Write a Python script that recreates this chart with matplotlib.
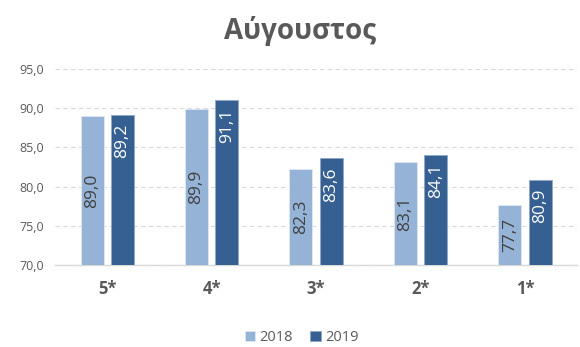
import matplotlib
matplotlib.use("Agg")
import matplotlib.pyplot as plt
import numpy as np

# hotel categories and occupancy values for August
categories = ["5*", "4*", "3*", "2*", "1*"]
values_2018 = [89.0, 89.9, 82.3, 83.1, 77.7]
values_2019 = [89.2, 91.1, 83.6, 84.1, 80.9]
years = ["2018", "2019"]
yticks = [70, 75, 80, 85, 90, 95]

light = "#95B3D7"
dark = "#366092"
grey = "#595959"

plt.rcParams["font.family"] = ["Open Sans", "DejaVu Sans"]

fig = plt.figure(figsize=(5.8, 3.47), dpi=100)
ax = fig.add_axes([0.095, 0.236, 0.90, 0.565])

x = np.arange(len(categories))
w = 0.22
off = 0.145

b1 = ax.bar(x - off, values_2018, w, color=light, edgecolor="#dfe8f3", linewidth=0.6,
            label=years[0], zorder=3)
b2 = ax.bar(x + off, values_2019, w, color=dark, edgecolor="#8fa9c8", linewidth=0.6,
            label=years[1], zorder=3)

def fmt(v):
    return f"{v:.1f}".replace(".", ",")

# light bars: label centred; dark bars: label at the inside end
for xi, v in zip(x - off, values_2018):
    ax.text(xi, (70 + v) / 2, fmt(v), rotation=90, ha="center", va="center",
            color="#404040", fontsize=12.5, zorder=4)
for xi, v in zip(x + off, values_2019):
    ax.text(xi, v - 1.2, fmt(v), rotation=90, ha="center", va="top",
            color="white", fontsize=12.5, zorder=4)

ax.set_ylim(70, 95)
ax.set_xlim(-0.5, len(categories) - 0.5)
ax.set_yticks(yticks)
ax.set_yticklabels([fmt(t) for t in yticks], color=grey, fontsize=9)
ax.set_xticks(x)
ax.set_xticklabels(categories, fontsize=12, fontweight="bold", color=grey)
ax.tick_params(axis="both", length=0)
ax.tick_params(axis="y", pad=8)
ax.tick_params(axis="x", pad=11)

ax.yaxis.grid(True, color="#d9d9d9", linestyle=(0, (4, 3)), linewidth=0.8, zorder=0)
for s in ["top", "right", "left"]:
    ax.spines[s].set_visible(False)
ax.spines["bottom"].set_color("#d9d9d9")
ax.spines["bottom"].set_linewidth(1)

fig.text(0.517, 0.912, "Αύγουστος", ha="center", va="center", fontsize=20,
         fontweight="bold", color=grey)

fig.legend(handles=[b1, b2], labels=years, loc="center", bbox_to_anchor=(0.52, 0.027),
           ncol=2, frameon=False, fontsize=10.5, handlelength=0.7, handleheight=0.7,
           handletextpad=0.3, columnspacing=1.2, labelcolor=grey)

fig.savefig("out.png", dpi=100)
